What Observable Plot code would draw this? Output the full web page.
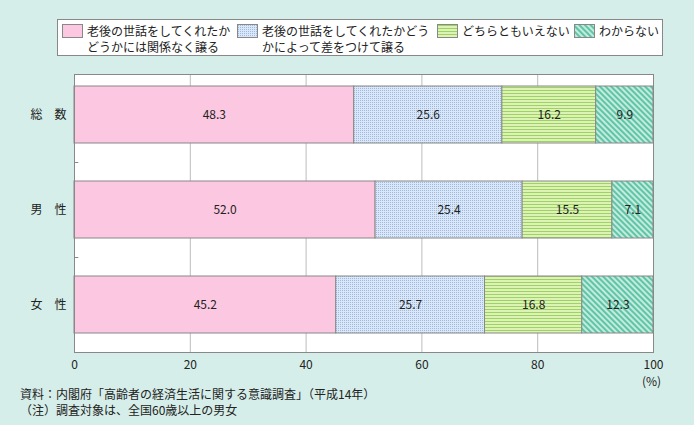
<!DOCTYPE html>
<html><head><meta charset="utf-8">
<script src="https://cdn.jsdelivr.net/npm/d3@7"></script>
<script src="https://cdn.jsdelivr.net/npm/@observablehq/plot@0.6"></script>
<style>
html,body{margin:0;padding:0;background:#d6eee9;}
#wrap{position:relative;width:694px;height:425px;background:#d6eee9;font-family:"Noto Sans CJK JP",sans-serif;color:#222;overflow:hidden;}
#legend{position:absolute;left:57px;top:19px;width:604px;height:35px;background:#fff;border:1px solid #888;}
.item{position:absolute;top:3px;font-size:12px;line-height:16px;white-space:nowrap;}
.sw{position:absolute;width:19px;height:12px;border:1px solid #888;top:1px;}
.lt{position:absolute;top:0;}
#notes{position:absolute;left:20px;top:386px;font-size:12px;line-height:16px;white-space:nowrap;}
#chart{position:absolute;left:0;top:0;}
</style></head>
<body><div id="wrap"><div id="chart"></div><div id="legend"></div><div id="notes"></div></div>
<script>
const categories = ["総　数", "男　性", "女　性"];
const series = ["老後の世話をしてくれたかどうかには関係なく譲る", "老後の世話をしてくれたかどうかによって差をつけて譲る", "どちらともいえない", "わからない"];
const legendLines = [["老後の世話をしてくれたか", "どうかには関係なく譲る"], ["老後の世話をしてくれたかどう", "かによって差をつけて譲る"], ["どちらともいえない"], ["わからない"]];
const valuesTotal = [48.3, 25.6, 16.2, 9.9];
const valuesMale = [52.0, 25.4, 15.5, 7.1];
const valuesFemale = [45.2, 25.7, 16.8, 12.3];
const xTicks = [0, 20, 40, 60, 80, 100];
const gridTicks = [20, 40, 60, 80];
const notes = ["資料：内閣府「高齢者の経済生活に関する意識調査」（平成14年）", "（注）調査対象は、全国60歳以上の男女"];

const fills = ["#fcc8e1", "url(#pBlue)", "url(#pGreen)", "url(#pTeal)"];
const rows = [valuesTotal, valuesMale, valuesFemale];
const data = [];
categories.forEach((c, i) => rows[i].forEach((v, j) => data.push({cat: c, series: series[j], value: v})));

const plot = Plot.plot({
  width: 694, height: 425,
  marginLeft: 74, marginRight: 41, marginTop: 74, marginBottom: 73,
  style: {background: "transparent", fontFamily: "'Noto Sans CJK JP', sans-serif", fontSize: "12px", color: "#222"},
  x: {domain: [0, 100], ticks: xTicks, tickSize: 0, tickPadding: 8, label: null},
  y: {domain: categories, range: [67, 352], paddingInner: 0.4, paddingOuter: 0.2, tickSize: 0, tickPadding: 8, label: null},
  color: {type: "ordinal", domain: series, range: fills},
  marks: [
    Plot.rect([0], {x1: 0, x2: 100, fill: "#fff"}),
    Plot.ruleX(gridTicks, {stroke: "#bcbcbc"}),
    Plot.barX(data, Plot.stackX({x: "value", y: "cat", fill: "series", order: null, stroke: "#888", strokeWidth: 1})),
    Plot.text(data, Plot.stackX({x: "value", y: "cat", text: d => d.value.toFixed(1), order: null, fill: "#222", fontSize: 12})),
    Plot.ruleY(categories.slice(0, 2), {y: d => d, dy: 47.5, x1: 0, x2: 0.75, stroke: "#888"}),
    Plot.frame({stroke: "#888"}),
    Plot.text(["(%)"], {x: 100, frameAnchor: "bottom", dy: 33, dx: -2, text: d => d, fill: "#222", fontSize: 12})
  ]
});

const svg = d3.select(plot);
const defs = svg.insert("defs", ":first-child");
const pb = defs.append("pattern").attr("id", "pBlue").attr("patternUnits", "userSpaceOnUse").attr("width", 2).attr("height", 2);
pb.append("rect").attr("width", 2).attr("height", 2).attr("fill", "#dbe7f6");
pb.append("rect").attr("width", 1).attr("height", 1).attr("fill", "#9bbbe2");
const pg = defs.append("pattern").attr("id", "pGreen").attr("patternUnits", "userSpaceOnUse").attr("width", 3).attr("height", 3);
pg.append("rect").attr("width", 3).attr("height", 3).attr("fill", "#dcf3b4");
pg.append("rect").attr("width", 3).attr("height", 1).attr("fill", "#9fd16a");
const pt = defs.append("pattern").attr("id", "pTeal").attr("patternUnits", "userSpaceOnUse").attr("width", 4).attr("height", 4).attr("patternTransform", "rotate(45)");
pt.append("rect").attr("width", 4).attr("height", 4).attr("fill", "#c3ebdf");
pt.append("rect").attr("width", 4).attr("height", 2).attr("fill", "#5fc5a5");

document.getElementById("chart").appendChild(plot);

const legendLeft = [4, 179, 379, 516];
const legend = document.getElementById("legend");
series.forEach((s, i) => {
  const it = document.createElement("div");
  it.className = "item";
  it.style.left = legendLeft[i] + "px";
  const sw = document.createElement("div");
  sw.className = "sw";
  sw.style.left = "0px";
  if (i === 0) sw.style.background = fills[0];
  else {
    sw.innerHTML = `<svg width="19" height="12" style="display:block"><rect width="19" height="12" fill="${fills[i]}"/></svg>`;
    sw.style.height = "12px";
  }
  it.appendChild(sw);
  const t = document.createElement("div");
  t.className = "lt";
  t.style.left = "25px";
  t.innerHTML = legendLines[i].join("<br>");
  it.appendChild(t);
  legend.appendChild(it);
});
document.getElementById("notes").innerHTML = notes.join("<br>");
</script></body></html>
